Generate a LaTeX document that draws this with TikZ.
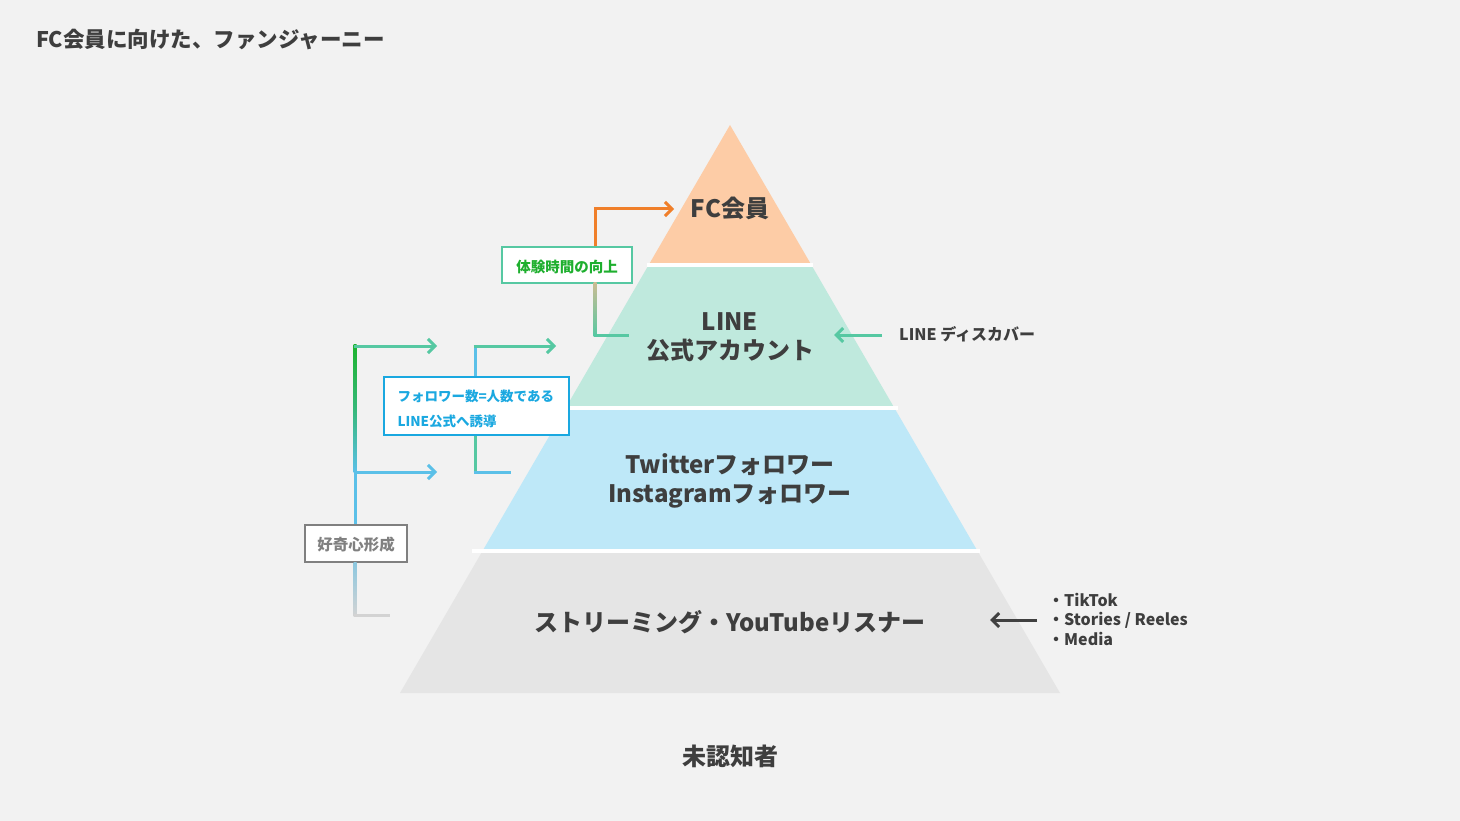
\documentclass[tikz,border=0pt]{standalone}
\usepackage{fontspec}
\setmainfont{Noto Sans CJK JP}
\usetikzlibrary{arrows.meta}
\definecolor{bg}{HTML}{F2F2F2}
\definecolor{txt}{HTML}{3E3E3E}
\definecolor{lorange}{HTML}{FDCCA6}
\definecolor{lgreen}{HTML}{BFE9DD}
\definecolor{lblue}{HTML}{BEE8F8}
\definecolor{lgrey}{HTML}{E5E5E5}
\definecolor{cteal}{HTML}{56C8A2}
\definecolor{cblue}{HTML}{5BC0E8}
\definecolor{corange}{HTML}{F07F2A}
\definecolor{cgreen}{HTML}{1DB32E}
\definecolor{cgtext}{HTML}{1EAF2E}
\definecolor{cbbox}{HTML}{1AA8E0}
\definecolor{cgbox}{HTML}{808080}
\definecolor{cline}{HTML}{D3D3D3}
\definecolor{cdark}{HTML}{404040}
\definecolor{cbeige}{HTML}{C9BC92}
\tikzset{
  lvl/.style={font=\fontsize{24}{29}\selectfont\bfseries, text=txt, align=center, inner sep=0},
  side/.style={font=\fontsize{16}{19.5}\selectfont\bfseries, text=txt, align=left, inner sep=0},
  arr/.style={line width=3pt, -{Straight Barb[length=7pt,width=14pt]}},
  seg/.style={line width=3pt},
  lbox/.style={fill=white, line width=1.4pt, inner sep=0},
  btext/.style={inner sep=0, font=\bfseries},
}
\begin{document}
\begin{tikzpicture}[x=1pt,y=-1pt]
\fill[bg] (0,0) rectangle (1460,821);
\useasboundingbox (0,0) rectangle (1460,821);

% pyramid layers
\fill[lorange] (730,125) -- (810.8,264) -- (649.2,264) -- cycle;
\fill[lgreen] (649.2,264) -- (810.8,264) -- (894.4,408) -- (565.6,408) -- cycle;
\fill[lblue] (565.6,408) -- (894.4,408) -- (977.5,551) -- (482.5,551) -- cycle;
\fill[lgrey] (482.5,551) -- (977.5,551) -- (1060,693) -- (400,693) -- cycle;
\draw[white, line width=3.4pt] (647,265) -- (813,265);
\draw[white, line width=3.4pt] (562,408) -- (898,408);
\draw[white, line width=3.4pt] (472,551) -- (980,551);

% title
\node[anchor=west, inner sep=0, font=\fontsize{21.5}{25}\selectfont\bfseries, text=txt] (title) at (36,40) {FC会員に向けた、ファンジャーニー};

% level labels
\node[lvl] (fc) at (730,208) {FC会員};
\node[lvl] (line) at (730,337) {LINE\\公式アカウント};
\node[lvl] (tw) at (730,481) {Twitterフォロワー\\Instagramフォロワー};
\node[lvl] (st) at (730,622) {ストリーミング・YouTubeリスナー};
\node[lvl] (mn) at (730,756) {未認知者};

% right side
\node[side, anchor=west] (disc) at (899,334) {LINE ディスカバー};
\coordinate (discS) at (882,335);
\coordinate (discE) at (834,335);
\draw[arr, cteal] (discS) -- (discE);
\node[side, anchor=west] (media) at (1048,619) {・TikTok\\・Stories / Reeles\\・Media};
\coordinate (medS) at (1037,620);
\coordinate (medE) at (990,620);
\draw[arr, cdark] (medS) -- (medE);

% boxes
\node[lbox, draw=cteal, minimum width=130pt, minimum height=36pt] (gbox) at (567,265) {};
\node[btext, text=cgtext, font=\fontsize{14.5}{17}\selectfont\bfseries] (gboxt) at (567,267) {体験時間の向上};
\node[lbox, draw=cbbox, minimum width=185pt, minimum height=58pt] (bbox) at (476.5,406) {};
\node[btext, text=cbbox, text width=161pt, align=left, font=\fontsize{13.5}{25}\selectfont\bfseries] (bboxt) at (478,409) {フォロワー数=人数である\\LINE公式へ誘導};
\node[lbox, draw=cgbox, minimum width=102pt, minimum height=37pt] (kbox) at (356,543.5) {};
\node[btext, text=cgbox, font=\fontsize{15.5}{18}\selectfont\bfseries] (kboxt) at (356,545) {好奇心形成};

% top bracket (FC)
\coordinate (tC) at (595,209);
\coordinate (tA) at (674,209);
\coordinate (tD) at (595,335);
\coordinate (tB) at (629,335);
\draw[arr, corange] (tC |- gbox.north) -- (tC) -- (tA);
\shade[top color=cbeige, bottom color=cteal] (593.5,283) rectangle (596.5,336.5);
\draw[seg, cteal] (593.5,335) -- (tB);

% inner bracket (LINE)
\coordinate (iC) at (475,346);
\coordinate (iA) at (556,346);
\coordinate (iD) at (475,472);
\coordinate (iB) at (511,472);
\draw[seg, cblue] (iC |- bbox.north) -- (iC);
\draw[arr, cteal] (473.5,346) -- (iA);
\draw[seg, cteal] (iC |- bbox.south) -- (iD);
\draw[seg, cblue] (473.5,472) -- (iB);

% outer bracket (curiosity)
\coordinate (oC) at (355,346);
\coordinate (oA) at (437,346);
\coordinate (oM) at (355,472);
\coordinate (oMA) at (437,472);
\coordinate (oD) at (355,615);
\coordinate (oB) at (390,615);
\shade[top color=cgreen, bottom color=cblue, middle color=cgreen!60!cblue] (353.5,344.5) rectangle (356.5,472);
\draw[seg, cblue] (oM) -- (oM |- kbox.north);
\draw[arr, cteal] (353.5,346) -- (oA);
\draw[arr, cblue] (oM) -- (oMA);
\shade[top color=cblue!60!cline, bottom color=cline] (353.5,562) rectangle (356.5,616.5);
\draw[seg, cline] (353.5,615) -- (oB);
\end{tikzpicture}
\end{document}
